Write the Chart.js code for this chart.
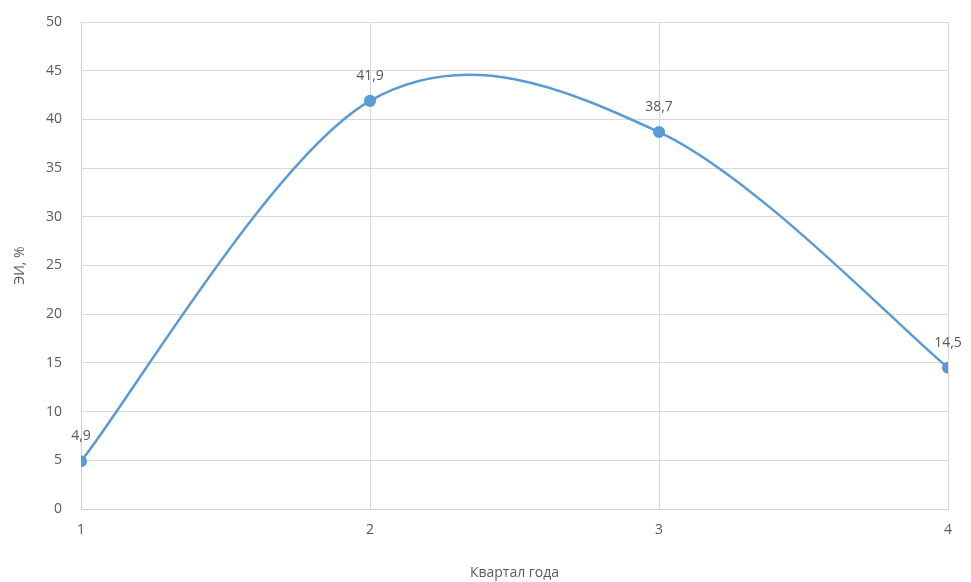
<!DOCTYPE html>
<html>
<head>
<meta charset="utf-8">
<script src="https://cdn.jsdelivr.net/npm/chart.js@4/dist/chart.umd.min.js"></script>
<style>
  html, body { margin: 0; padding: 0; background: #ffffff; }
  #wrap { width: 971px; height: 582px; }
</style>
</head>
<body>
<div id="wrap"><canvas id="c" width="971" height="582"></canvas></div>
<script>
// Quarter of the year and the EI percentage for each quarter
const quarters = [1, 2, 3, 4];
const eiValues = [4.9, 41.9, 38.7, 14.5];
const yTicks = [0, 5, 10, 15, 20, 25, 30, 35, 40, 45, 50];

const FONT = "'Open Sans', 'Noto Sans', sans-serif";
const GREY = '#595959';
const LINE = '#5b9bd5';

// Spreadsheet-style smoothing: each control point sits 1/6 of the
// neighbour-to-neighbour vector away from its point (ends reuse themselves)
const smoothCurve = {
  id: 'smoothCurve',
  beforeDatasetsDraw(chart) {
    const meta = chart.getDatasetMeta(0);
    meta.dataset.updateControlPoints(chart.chartArea, 'x');
    const pts = meta.data;
    const n = pts.length;
    for (let i = 0; i < n; i++) {
      const prev = pts[Math.max(i - 1, 0)];
      const next = pts[Math.min(i + 1, n - 1)];
      const dx = (next.x - prev.x) / 6;
      const dy = (next.y - prev.y) / 6;
      pts[i].cp1x = pts[i].x - dx;
      pts[i].cp1y = pts[i].y - dy;
      pts[i].cp2x = pts[i].x + dx;
      pts[i].cp2y = pts[i].y + dy;
    }
  }
};

// Writes each value above its point, with a comma as decimal separator
const valueLabels = {
  id: 'valueLabels',
  afterDatasetsDraw(chart) {
    const ctx = chart.ctx;
    const meta = chart.getDatasetMeta(0);
    ctx.save();
    ctx.font = '14px ' + FONT;
    ctx.fillStyle = GREY;
    ctx.textAlign = 'center';
    ctx.textBaseline = 'middle';
    meta.data.forEach((pt, i) => {
      const txt = String(eiValues[i]).replace('.', ',');
      ctx.fillText(txt, pt.x, pt.y - 25);
    });
    ctx.restore();
  }
};

new Chart(document.getElementById('c'), {
  type: 'line',
  data: {
    datasets: [{
      data: quarters.map((q, i) => ({ x: q, y: eiValues[i] })),
      borderColor: LINE,
      backgroundColor: LINE,
      borderWidth: 2.5,
      pointRadius: 4.8,
      pointHoverRadius: 4.8,
      pointBackgroundColor: LINE,
      pointBorderColor: LINE,
      tension: 0.4,
      fill: false
    }]
  },
  options: {
    responsive: false,
    animation: false,
    events: [],
    layout: { padding: { top: 22, right: 23, bottom: 0, left: 0 } },
    plugins: { legend: { display: false }, tooltip: { enabled: false } },
    scales: {
      x: {
        type: 'linear',
        min: 1,
        max: 4,
        afterBuildTicks(scale) { scale.ticks = quarters.map(v => ({ value: v })); },
        afterFit(scale) {
          scale.height = 73;
          scale.paddingLeft = 0;
          scale.paddingRight = 0;
        },
        grid: { color: '#d9d9d9', lineWidth: 1, drawTicks: false },
        border: { color: '#d0d0d0', width: 1 },
        ticks: { color: GREY, font: { family: FONT, size: 14 }, padding: 13 },
        title: {
          display: true,
          text: 'Квартал года',
          color: GREY,
          font: { family: FONT, size: 14 },
          padding: { top: 0, bottom: 1 }
        }
      },
      y: {
        min: 0,
        max: 50,
        afterBuildTicks(scale) { scale.ticks = yTicks.map(v => ({ value: v })); },
        afterFit(scale) {
          scale.width = 81;
          scale.paddingTop = 0;
          scale.paddingBottom = 0;
        },
        grid: { color: '#d9d9d9', lineWidth: 1, drawTicks: false },
        border: { color: '#d0d0d0', width: 1 },
        ticks: { color: GREY, font: { family: FONT, size: 14 }, padding: 19 },
        title: {
          display: true,
          text: 'ЭИ, %',
          color: GREY,
          font: { family: FONT, size: 14 },
          padding: { top: 12, bottom: 0 }
        }
      }
    }
  },
  plugins: [smoothCurve, valueLabels]
});
</script>
</body>
</html>
